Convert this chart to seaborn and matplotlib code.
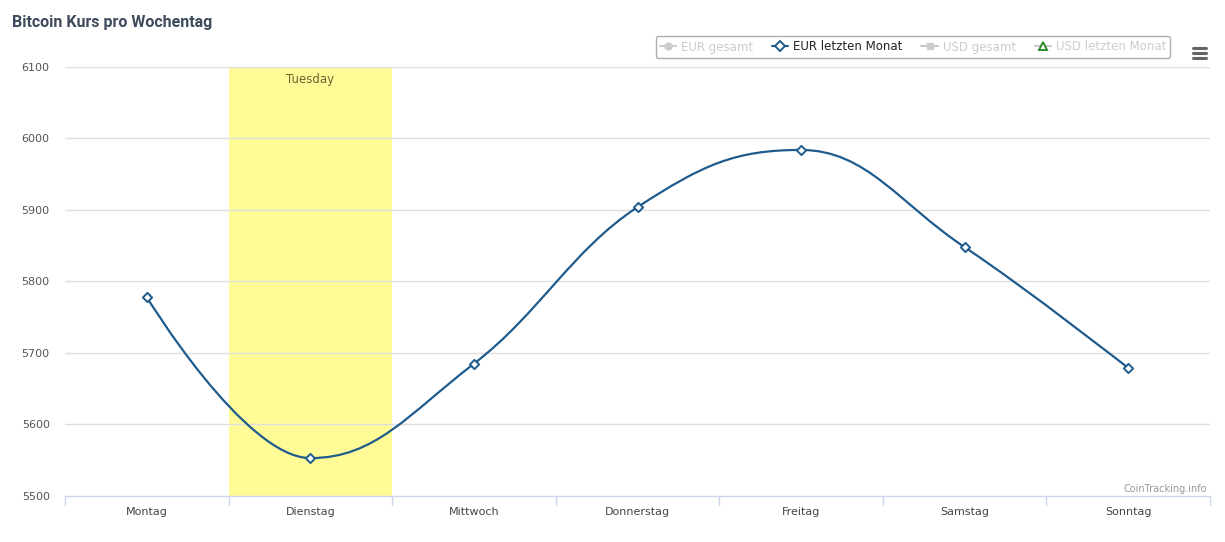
import numpy as np
import pandas as pd
import matplotlib
matplotlib.use("Agg")
import matplotlib.pyplot as plt
from matplotlib.path import Path
from matplotlib.patches import PathPatch
from matplotlib.lines import Line2D
import seaborn as sns

# Data
days = ["Montag", "Dienstag", "Mittwoch", "Donnerstag", "Freitag", "Samstag", "Sonntag"]
eur_last_month = [5778, 5553, 5685, 5904, 5984, 5848, 5679]
y_ticks = [5500, 5600, 5700, 5800, 5900, 6000, 6100]
legend_labels = ["EUR gesamt", "EUR letzten Monat", "USD gesamt", "USD letzten Monat"]
highlight_day = "Dienstag"
highlight_label = "Tuesday"

line_color = "#1f5b8c"
grid_color = "#dedede"
axis_color = "#ccd6eb"

df = pd.DataFrame({"day": days, "eur": eur_last_month})
df["x"] = np.arange(len(days))


def spline_path(xs, ys, smoothing=1.5):
    # Highcharts-style spline: cubic bezier segments through each point
    n = len(xs)
    denom = smoothing + 1
    lc = [None] * n
    rc = [None] * n
    for i in range(1, n - 1):
        px, py = xs[i], ys[i]
        lx = (smoothing * px + xs[i - 1]) / denom
        ly = (smoothing * py + ys[i - 1]) / denom
        rx = (smoothing * px + xs[i + 1]) / denom
        ry = (smoothing * py + ys[i + 1]) / denom
        if rx != lx:
            slope = (ry - ly) / (rx - lx)
            ly = slope * (lx - px) + py
            ry = slope * (rx - px) + py
        if ly > max(ys[i - 1], py):
            ly = max(ys[i - 1], py)
            ry = 2 * py - ly
        elif ly < min(ys[i - 1], py):
            ly = min(ys[i - 1], py)
            ry = 2 * py - ly
        if ry > max(py, ys[i + 1]):
            ry = max(py, ys[i + 1])
            ly = 2 * py - ry
        elif ry < min(py, ys[i + 1]):
            ry = min(py, ys[i + 1])
            ly = 2 * py - ry
        lc[i] = (lx, ly)
        rc[i] = (rx, ry)
    verts = [(xs[0], ys[0])]
    codes = [Path.MOVETO]
    for i in range(1, n):
        c1 = rc[i - 1] if rc[i - 1] is not None else (xs[i - 1], ys[i - 1])
        c2 = lc[i] if lc[i] is not None else (xs[i], ys[i])
        verts += [c1, c2, (xs[i], ys[i])]
        codes += [Path.CURVE4] * 3
    return Path(verts, codes)


sns.set_style("white")
plt.rcParams["font.family"] = ["DejaVu Sans"]

fig = plt.figure(figsize=(12.25, 5.42), dpi=100)
ax = fig.add_axes([65 / 1225, 46 / 542, 1145 / 1225, 429 / 542])

# highlighted band
hi = days.index(highlight_day)
ax.axvspan(hi - 0.5, hi + 0.5, color="#fffb96", zorder=0, lw=0)
ax.text(hi, 6083, highlight_label, ha="center", va="center", fontsize=8.5,
        color="#666633", zorder=1)

# grid
for t in y_ticks[1:]:
    ax.axhline(t, color=grid_color, lw=1, zorder=0.5)

# smooth line
path = spline_path(df["x"].tolist(), df["eur"].tolist())
ax.add_patch(PathPatch(path, facecolor="none", edgecolor=line_color, lw=1.6, zorder=3))

sns.scatterplot(data=df, x="x", y="eur", marker="D", s=22, color="white",
                edgecolor=line_color, linewidth=1.4, zorder=4, ax=ax, legend=False)

ax.set_xlim(-0.5, len(days) - 0.5)
ax.set_ylim(5500, 6100)
ax.set_yticks(y_ticks)
ax.set_yticklabels([str(t) for t in y_ticks], fontsize=8, color="#555555")
ax.set_xticks(df["x"])
ax.set_xticklabels(days, fontsize=8, color="#444444")
ax.tick_params(axis="both", length=0, pad=8)
ax.tick_params(axis="y", pad=11)
ax.set_xlabel("")
ax.set_ylabel("")
for s in ["top", "right", "left"]:
    ax.spines[s].set_visible(False)
ax.spines["bottom"].set_color(axis_color)
ax.spines["bottom"].set_linewidth(1)

# category boundary ticks
for b in np.arange(-0.5, len(days), 1.0):
    ax.plot([b, b], [0, -0.022], transform=ax.get_xaxis_transform(), color=axis_color,
            lw=1, clip_on=False)

# title
fig.text(12 / 1225, 1 - 22 / 542, "Bitcoin Kurs pro Wochentag", fontsize=11.5,
         fontweight="bold", color="#3d4a5c", va="center", ha="left",
         family=["Roboto", "DejaVu Sans"])

# legend
handles = [
    Line2D([], [], color="#cccccc", marker="o", markersize=5, lw=1.5),
    Line2D([], [], color=line_color, marker="D", markersize=5, lw=1.5,
           markerfacecolor="white", markeredgewidth=1.4),
    Line2D([], [], color="#cccccc", marker="s", markersize=5, lw=1.5),
    Line2D([], [], color="#cccccc", marker="^", markersize=6, lw=1.5,
           markerfacecolor="white", markeredgecolor="#2e8b2e", markeredgewidth=1.4),
]
leg = fig.legend(handles, legend_labels, ncol=4, loc="center",
                 bbox_to_anchor=(913 / 1225, 1 - 47 / 542), fontsize=8.5,
                 frameon=True, handlelength=1.4, handletextpad=0.4, columnspacing=1.6,
                 borderpad=0.35, fancybox=True)
leg.get_frame().set_edgecolor("#999999")
leg.get_frame().set_linewidth(1)
for i, txt in enumerate(leg.get_texts()):
    txt.set_color("#222222" if i == 1 else "#cccccc")

# menu icon
for yy in [48, 53, 58]:
    fig.add_artist(Line2D([1193 / 1225, 1206 / 1225], [1 - yy / 542] * 2,
                          color="#666666", lw=2.2, solid_capstyle="round"))

# credit
fig.text(1207 / 1225, 1 - 489 / 542, "CoinTracking.info", fontsize=7,
         color="#999999", ha="right", va="center")

fig.savefig("out.png", dpi=100)
